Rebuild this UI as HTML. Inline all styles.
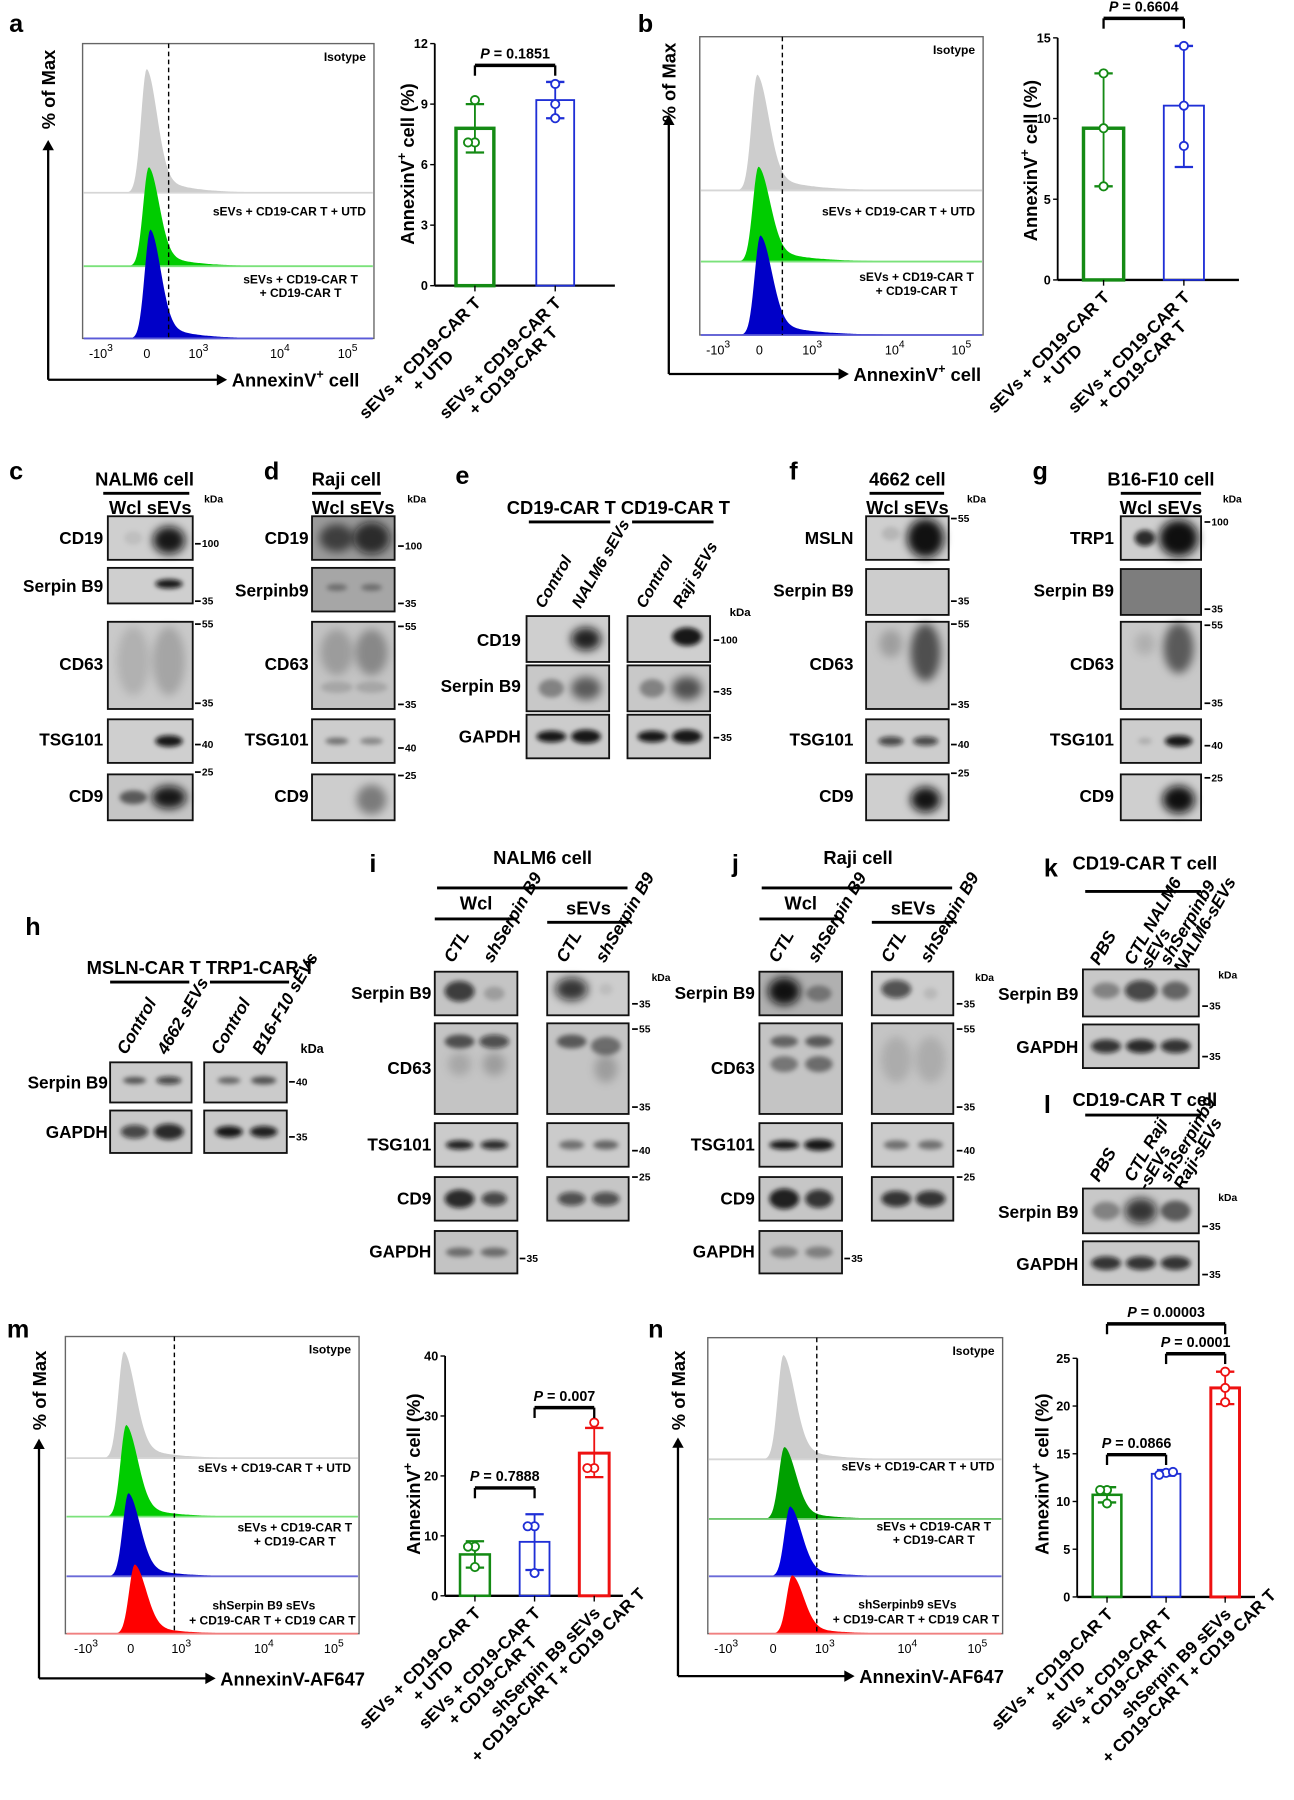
<!DOCTYPE html>
<html><head><meta charset="utf-8"><style>
html,body{margin:0;padding:0;background:#fff;}
svg{display:block;font-family:"Liberation Sans",Arial,sans-serif;}
</style></head><body>
<svg id="fig" xmlns="http://www.w3.org/2000/svg" width="1294" height="1800" viewBox="0 0 1128 1569" preserveAspectRatio="none">
<defs><filter id="blur" x="-50%" y="-100%" width="200%" height="300%"><feGaussianBlur stdDeviation="2"/></filter>
<filter id="blur2" x="-50%" y="-50%" width="200%" height="200%"><feGaussianBlur stdDeviation="4"/></filter></defs>
<rect x="0" y="0" width="1128" height="1569" fill="#fff"/>
</svg>
<script>
// ---------- chart data (bar charts) ----------
const aCats=[['sEVs + CD19-CAR T','+ UTD'],['sEVs + CD19-CAR T','+ CD19-CAR T']];
const aMeans=[7.8,9.2];
const aErrLo=[6.6,8.3];
const aErrHi=[9.0,10.1];
const aPts=[[9.2,7.1,7.1],[10.0,9.0,8.3]];
const aTicks=[0,3,6,9,12];
const aPvals=['0.1851'];

const bCats=[['sEVs + CD19-CAR T','+ UTD'],['sEVs + CD19-CAR T','+ CD19-CAR T']];
const bMeans=[9.4,10.8];
const bErrLo=[5.8,7.0];
const bErrHi=[12.8,14.5];
const bPts=[[12.8,9.4,5.8],[14.5,10.8,8.3]];
const bTicks=[0,5,10,15];
const bPvals=['0.6604'];

const mCats=[['sEVs + CD19-CAR T','+ UTD'],['sEVs + CD19-CAR T','+ CD19-CAR T'],['shSerpin B9  sEVs','+ CD19-CAR T + CD19 CAR T']];
const mMeans=[6.9,9.0,23.8];
const mErrLo=[4.7,4.3,19.8];
const mErrHi=[9.1,13.6,28.0];
const mPts=[[8.2,8.2,4.8],[11.6,11.6,3.8],[28.9,21.3,21.3]];
const mTicks=[0,10,20,30,40];
const mPvals=['0.7888','0.007'];

const nCats=[['sEVs + CD19-CAR T','+ UTD'],['sEVs + CD19-CAR T','+ CD19-CAR T'],['shSerpin B9  sEVs','+ CD19-CAR T + CD19 CAR T']];
const nMeans=[10.7,12.9,21.9];
const nErrLo=[9.9,12.7,20.2];
const nErrHi=[11.5,13.3,23.6];
const nPts=[[11.2,11.2,9.8],[13.0,12.8,13.1],[23.6,21.9,20.4]];
const nTicks=[0,5,10,15,20,25];
const nPvals=['0.0866','0.0001','0.00003'];

// ---------- flow histogram data (peak location in decades, peak % of max) ----------
const aPeakLoc=[0.0,0.04,0.07];
const aPeakPct=[100,80,88];
const bPeakLoc=[-0.05,-0.02,0.02];
const bPeakPct=[100,82,86];
const mPeakLoc=[-0.15,-0.1,-0.05,0.08];
const mPeakPct=[100,86,78,65];
const nPeakLoc=[0.2,0.22,0.33,0.37];
const nPeakPct=[100,69,67,56];

const NS='http://www.w3.org/2000/svg';
const svg=document.getElementById('fig');
function mk(tag,attrs,parent){const e=document.createElementNS(NS,tag);for(const k in attrs)e.setAttribute(k,attrs[k]);(parent||svg).appendChild(e);return e;}
function grp(name,parent){const g=mk('g',{},parent);


return g;}
function tx(x,y,s,o){o=o||{};const t=mk('text',{x:x,y:y,'font-size':o.fs||14,'text-anchor':o.a||'start','font-weight':o.w||'bold','font-style':o.it?'italic':'normal',fill:o.c||'#000'},o.p);
if(o.html)t.innerHTML=s;else t.textContent=s;


if(o.rot!=null)t.setAttribute('transform','rotate('+o.rot+' '+x+' '+y+')');return t;}
function ln(x1,y1,x2,y2,c,w,p,extra){const l=mk('line',Object.assign({x1:x1,y1:y1,x2:x2,y2:y2,stroke:c||'#000','stroke-width':w||1},extra||{}),p);return l;}

// ---------- flow histogram panel ----------
function flow(cfg){
 const g=grp(cfg.name);
 const tickPx=cfg.tickPx, tickLoc=[-1,0,1,2,3];
 function xs(v){for(let i=0;i<tickLoc.length-1;i++){if(v<=tickLoc[i+1]||i==tickLoc.length-2){return tickPx[i]+(v-tickLoc[i])/(tickLoc[i+1]-tickLoc[i])*(tickPx[i+1]-tickPx[i]);}}}
 const b=cfg.box;
 const r=mk('rect',{x:b[0],y:b[1],width:b[2]-b[0],height:b[3]-b[1],fill:'#fff',stroke:'#666','stroke-width':1.2},g);
 
 for(let i=0;i<cfg.peakLoc.length;i++){
  const base=cfg.bases[i], px=xs(cfg.peakLoc[i]), h=cfg.peakPct[i]/100*cfg.trackH;
  let d='M'+(b[0]+1)+' '+base;
  for(let x=b[0]+1;x<=b[2]-1;x+=1){const dd=x-px;let f;
   if(dd<0)f=Math.exp(-dd*dd/(2*cfg.sl*cfg.sl));else f=0.82*Math.exp(-dd*dd/(2*cfg.sr*cfg.sr))+0.18*Math.exp(-dd/cfg.tail);
   d+=' L'+x+' '+(base-h*f).toFixed(1);}
  d+=' L'+(b[2]-1)+' '+base+' Z';
  const p=mk('path',{d:d,fill:cfg.fills[i],stroke:'none'},g);
  
  
  ln(b[0]+1,base,b[2]-1,base,cfg.lines[i],1.6,g);
 }
 ln(cfg.dash,b[1],cfg.dash,b[3],'#000',1.2,g,{'stroke-dasharray':'4,3'});
 tx(b[2]-7,b[1]+15,'Isotype',{fs:10.5,a:'end',p:g,n:'isotype-label'});
 tx(b[2]-7,cfg.t1y,'sEVs + CD19-CAR T + UTD',{fs:10.5,a:'end',p:g,n:'utd-label'});
 tx(cfg.t2x,cfg.t2y,'sEVs + CD19-CAR T',{fs:10.5,a:'middle',p:g,n:'car-label-1'});
 tx(cfg.t2x,cfg.t2y+12,'+ CD19-CAR T',{fs:10.5,a:'middle',p:g,n:'car-label-2'});
 if(cfg.t3y){tx(cfg.t3x,cfg.t3y,cfg.t3a,{fs:10.5,a:'middle',p:g,n:'sh-label-1'});
  tx(b[2]-3,cfg.t3y+13,'+ CD19-CAR T + CD19 CAR T',{fs:10.5,a:'end',p:g,n:'sh-label-2'});}
 const tl=['-10<tspan dy="-6" font-size="9">3</tspan>','0','10<tspan dy="-6" font-size="9">3</tspan>','10<tspan dy="-6" font-size="9">4</tspan>','10<tspan dy="-6" font-size="9">5</tspan>'];
 for(let i=0;i<5;i++){tx(tickPx[i],b[3]+17,tl[i],{fs:11,w:'normal',a:'middle',html:1,p:g,n:'x-tick-label'});}
 const ax=cfg.arrow;
 ln(ax[0],ax[1],ax[0],ax[2]+8,'#000',2,g);
 mk('path',{d:'M'+(ax[0]-5)+' '+(ax[2]+9)+' L'+ax[0]+' '+ax[2]+' L'+(ax[0]+5)+' '+(ax[2]+9)+' Z'},g);
 ln(ax[0],ax[1],ax[3]-8,ax[1],'#000',2,g);
 mk('path',{d:'M'+(ax[3]-9)+' '+(ax[1]-5)+' L'+ax[3]+' '+ax[1]+' L'+(ax[3]-9)+' '+(ax[1]+5)+' Z'},g);
 tx(ax[3]+4,ax[1]+6,cfg.xtitle,{fs:16,html:1,p:g,n:'x-axis-title'});
 tx(ax[0]+6,cfg.ytitleY,'% of Max',{fs:16,a:'middle',rot:-90,p:g,n:'y-axis-title'});
}

// ---------- bar chart ----------
function bars(cfg,cats,means,lo,hi,pts,ticks,pv){
 const g=grp(cfg.name);
 const maxV=ticks[ticks.length-1];
 const y=v=>cfg.y0-v/maxV*(cfg.y0-cfg.yTop);
 const x=i=>cfg.ax+cfg.first+i*cfg.step;
 ln(cfg.ax,cfg.y0,cfg.ax,cfg.yTop,'#000',1.6,g);
 ln(cfg.ax,cfg.y0,cfg.xEnd,cfg.y0,'#000',2,g);
 ticks.forEach(t=>{ln(cfg.ax-4,y(t),cfg.ax,y(t),'#000',1.2,g);
  tx(cfg.ax-6,y(t)+4,String(t),{fs:11,a:'end',p:g,n:'y-tick-label'});});
 means.forEach((m,i)=>{
  const c=cfg.colors[i];
  const r=mk('rect',{x:x(i)-cfg.barW/2,y:y(m),width:cfg.barW,height:cfg.y0-y(m),fill:'none',stroke:c,'stroke-width':cfg.sw[i]},g);
  
  
  ln(x(i),y(lo[i]),x(i),y(hi[i]),c,1.6,g);
  ln(x(i)-8,y(lo[i]),x(i)+8,y(lo[i]),c,2,g);
  ln(x(i)-8,y(hi[i]),x(i)+8,y(hi[i]),c,2,g);
  const seen=[];
  pts[i].forEach(v=>{let k=seen.filter(s=>Math.abs(s-v)<0.35*maxV/12).length;seen.push(v);
   const dx=[0,-6,6][k%3];
   const cc=mk('circle',{cx:x(i)+dx,cy:y(v),r:3.6,fill:'#fff',stroke:c,'stroke-width':1.6},g);
   
   });
  ln(x(i),cfg.y0,x(i),cfg.y0+5,'#000',1.2,g);
  const lg=mk('g',{},g);
  const t=tx(0,0,'',{fs:15,a:'middle',p:lg,n:'x-category-label'});
  const s1=mk('tspan',{x:0,dy:0},t);s1.textContent=cats[i][0];
  const s2=mk('tspan',{x:0,dy:16},t);s2.textContent=cats[i][1];
  let w=150;try{w=s1.getComputedTextLength();}catch(e){}
  lg.setAttribute('transform','translate('+(x(i)+6)+','+(cfg.y0+16)+') rotate(-45) translate('+(-w/2)+',0)');
 });
 cfg.brackets.forEach((bk,j)=>{const x1=x(bk[0]),x2=x(bk[1]),yy=bk[2];
  ln(x1,yy+9,x1,yy,'#000',2,g);ln(x1,yy,x2,yy,'#000',3,g);ln(x2,yy,x2,yy+9,'#000',2,g);
  tx((x1+x2)/2,yy-6,'<tspan font-style="italic">P</tspan> = '+pv[j],{fs:12.5,a:'middle',html:1,p:g,n:'p-value-label'});});
 tx(cfg.ytx,cfg.yty,'AnnexinV<tspan dy="-7" font-size="11">+</tspan><tspan dy="7"> cell (%)</tspan>',{fs:16,a:'middle',rot:-90,html:1,p:g,n:'y-axis-title'});
}

// ---------- western blot helpers ----------
const L2=[0.3,0.72], L3=[0.2,0.5,0.8];
function blot(name,x,y,w,h,lanes,bands,bg,p){
 const g=grp(name+'-blot',p);
 const r=mk('rect',{x:x,y:y,width:w,height:h,fill:bg||'#cdcdcd',stroke:'#111','stroke-width':1.6},g);
 
 bands.forEach(b=>{const e=mk('ellipse',{cx:x+lanes[b[0]]*w,cy:y+b[1]*h,rx:b[2],ry:b[3],fill:'#0a0a0a','fill-opacity':b[4],filter:b[3]>9?'url(#blur2)':'url(#blur)'},g);
  
  });
}
function mark(x,y,s,p){ln(x,y,x+5,y,'#000',1.5,p);tx(x+6,y+3,s,{fs:9,p:p,n:'kda-marker'});}
function lane(x,y,s,p,fs){tx(x,y,s,{fs:fs||15,it:1,rot:-60,p:p,n:'lane-label'});}

// ================== PANEL a / b ==================
tx(8,28,'a',{fs:22,n:'panel-letter-a'});
tx(556,28,'b',{fs:22,n:'panel-letter-b'});
flow({name:'flow-a',box:[72,38,326,295],bases:[168,232,295],trackH:108,peakLoc:aPeakLoc,peakPct:aPeakPct,
 fills:['#cdcdcd','#00cc00','#0000c8'],lines:['#d6d6d6','#7be27b','#5a5ad8'],sampleNames:['isotype','utd','car'],
 sl:5,sr:9,tail:25,tickPx:[88,128,173,244,303],dash:147,t1y:188,t2x:262,t2y:247,
 arrow:[42,331,122,198],xtitle:'AnnexinV<tspan dy="-7" font-size="11">+</tspan><tspan dy="7"> cell</tspan>',ytitleY:78});
bars({name:'bar-chart-a',ax:379,y0:249,yTop:38,first:35,step:70,barW:33,xEnd:536,colors:['#148a14','#1f2fd6'],sw:[3,1.6],
 brackets:[[0,1,57]],ytx:361,yty:143},aCats,aMeans,aErrLo,aErrHi,aPts,aTicks,aPvals);

flow({name:'flow-b',box:[610,32,857,292],bases:[166,228,292],trackH:101,peakLoc:bPeakLoc,peakPct:bPeakPct,
 fills:['#cdcdcd','#00cc00','#0000c8'],lines:['#d6d6d6','#7be27b','#5a5ad8'],sampleNames:['isotype','utd','car'],
 sl:5,sr:10,tail:30,tickPx:[626,662,708,780,838],dash:682,t1y:188,t2x:799,t2y:245,
 arrow:[583,326,100,740],xtitle:'AnnexinV<tspan dy="-7" font-size="11">+</tspan><tspan dy="7"> cell</tspan>',ytitleY:72});
bars({name:'bar-chart-b',ax:922,y0:244,yTop:33,first:40,step:70,barW:35,xEnd:1080,colors:['#148a14','#1f2fd6'],sw:[3,1.6],
 brackets:[[0,1,16]],ytx:904,yty:140},bCats,bMeans,bErrLo,bErrHi,bPts,bTicks,bPvals);

// ================== PANELS c-g ==================
(function(){
 let g=grp('panel-c');
 tx(8,418,'c',{fs:22,p:g,n:'panel-letter-c'});
 tx(126,423,'NALM6 cell',{fs:16,a:'middle',p:g,n:'panel-c-title'});ln(90,430,165,430,'#000',2.5,g);
 tx(131,448,'Wcl sEVs',{fs:16,a:'middle',p:g,n:'lane-header'});tx(178,438,'kDa',{fs:9,p:g,n:'kda-label'});
 blot('cd19',94,450,74,38,L2,[[0,.5,8,6,.08],[1,.55,14,12,.95]],'#cfcfcf',g);
 blot('serpinb9',94,495,74,31,L2,[[1,.45,12,4,.95]],'#cfcfcf',g);
 blot('cd63',94,542,74,76,L2,[[0,.45,14,30,.12],[1,.45,14,30,.18]],'#c9c9c9',g);
 blot('tsg101',94,627,74,38,L2,[[1,.5,12,5,.95]],'#cfcfcf',g);
 blot('cd9',94,675,74,40,L2,[[0,.5,12,6,.55],[1,.5,15,10,.95]],'#c6c6c6',g);
 [['CD19',474],['Serpin B9',516],['CD63',584],['TSG101',650],['CD9',699]].forEach(r=>tx(90,r[1],r[0],{fs:15,a:'end',p:g,n:'protein-label'}));
 mark(170,474,'100',g);mark(170,524,'35',g);mark(170,544,'55',g);mark(170,613,'35',g);mark(170,649,'40',g);mark(170,673,'25',g);
 g=grp('panel-d');
 tx(230,418,'d',{fs:22,p:g,n:'panel-letter-d'});
 tx(302,423,'Raji cell',{fs:16,a:'middle',p:g,n:'panel-d-title'});ln(272,430,332,430,'#000',2.5,g);
 tx(308,448,'Wcl sEVs',{fs:16,a:'middle',p:g,n:'lane-header'});tx(355,438,'kDa',{fs:9,p:g,n:'kda-label'});
 blot('cd19',272,450,72,38,L2,[[0,.5,15,12,.6],[1,.5,16,14,.8]],'#9a9a9a',g);
 blot('serpinb9',272,495,72,38,L2,[[0,.45,9,3,.35],[1,.45,9,3,.35]],'#a6a6a6',g);
 blot('cd63',272,542,72,76,L2,[[0,.35,14,20,.2],[1,.35,14,20,.3],[0,.75,14,5,.15],[1,.75,14,5,.15]],'#c3c3c3',g);
 blot('tsg101',272,627,72,38,L2,[[0,.5,10,3,.45],[1,.5,10,3,.35]],'#cdcdcd',g);
 blot('cd9',272,675,72,40,L2,[[1,.55,13,13,.4]],'#cdcdcd',g);
 [['CD19',474],['Serpinb9',520],['CD63',584],['TSG101',650],['CD9',699]].forEach(r=>tx(269,r[1],r[0],{fs:15,a:'end',p:g,n:'protein-label'}));
 mark(347,476,'100',g);mark(347,526,'35',g);mark(347,546,'55',g);mark(347,614,'35',g);mark(347,652,'40',g);mark(347,676,'25',g);
 g=grp('panel-e');
 tx(397,422,'e',{fs:22,p:g,n:'panel-letter-e'});
 tx(539,448,'CD19-CAR T CD19-CAR T',{fs:16,a:'middle',p:g,n:'panel-e-title'});
 ln(461,455,532,455,'#000',2.5,g);ln(551,455,622,455,'#000',2.5,g);
 lane(474,531,'Control',g,14);lane(506,531,'NALM6 sEVs',g,14);lane(562,531,'Control',g,14);lane(594,531,'Raji sEVs',g,14);
 tx(636,537,'kDa',{fs:10,p:g,n:'kda-label'});
 blot('cd19-ctrl-nalm6',459,537,72,40,L2,[[1,.5,13,10,.9]],'#cfcfcf',g);
 blot('cd19-ctrl-raji',547,537,72,40,L2,[[1,.45,13,8,.95]],'#cfcfcf',g);
 blot('serpinb9-nalm6',459,580,72,40,L2,[[0,.5,11,8,.35],[1,.5,13,10,.55]],'#c8c8c8',g);
 blot('serpinb9-raji',547,580,72,40,L2,[[0,.5,11,8,.35],[1,.5,13,10,.6]],'#c8c8c8',g);
 blot('gapdh-nalm6',459,623,72,38,L2,[[0,.5,13,5,.95],[1,.5,13,6,.95]],'#cccccc',g);
 blot('gapdh-raji',547,623,72,38,L2,[[0,.5,13,5,.95],[1,.5,13,6,.95]],'#cccccc',g);
 [['CD19',563],['Serpin B9',603],['GAPDH',647]].forEach(r=>tx(454,r[1],r[0],{fs:15,a:'end',p:g,n:'protein-label'}));
 mark(622,558,'100',g);mark(622,603,'35',g);mark(622,643,'35',g);
 g=grp('panel-f');
 tx(688,418,'f',{fs:22,p:g,n:'panel-letter-f'});
 tx(791,423,'4662 cell',{fs:16,a:'middle',p:g,n:'panel-f-title'});ln(758,430,823,430,'#000',2.5,g);
 tx(791,448,'Wcl sEVs',{fs:16,a:'middle',p:g,n:'lane-header'});tx(843,438,'kDa',{fs:9,p:g,n:'kda-label'});
 blot('mesothelin',755,450,72,38,L2,[[0,.4,8,6,.12],[1,.5,16,17,.98]],'#cfcfcf',g);
 blot('serpinb9',755,496,72,40,L2,[],'#cdcdcd',g);
 blot('cd63',755,542,72,76,L2,[[0,.25,10,12,.2],[1,.35,13,25,.6]],'#c6c6c6',g);
 blot('tsg101',755,627,72,38,L2,[[0,.5,11,4,.7],[1,.5,11,4,.7]],'#cdcdcd',g);
 blot('cd9',755,675,72,40,L2,[[1,.55,13,11,.97]],'#cfcfcf',g);
 [['MSLN',474],['Serpin B9',520],['CD63',584],['TSG101',650],['CD9',699]].forEach(r=>tx(744,r[1],r[0],{fs:15,a:'end',p:g,n:'protein-label'}));
 mark(829,452,'55',g);mark(829,524,'35',g);mark(829,544,'55',g);mark(829,614,'35',g);mark(829,649,'40',g);mark(829,674,'25',g);
 g=grp('panel-g');
 tx(900,418,'g',{fs:22,p:g,n:'panel-letter-g'});
 tx(1012,423,'B16-F10 cell',{fs:16,a:'middle',p:g,n:'panel-g-title'});ln(977,430,1047,430,'#000',2.5,g);
 tx(1012,448,'Wcl sEVs',{fs:16,a:'middle',p:g,n:'lane-header'});tx(1066,438,'kDa',{fs:9,p:g,n:'kda-label'});
 blot('trp1',977,450,70,38,L2,[[0,.5,9,7,.85],[1,.5,17,16,.99]],'#cfcfcf',g);
 blot('serpinb9',977,496,70,40,L2,[],'#7d7d7d',g);
 blot('cd63',977,542,70,76,L2,[[0,.25,9,10,.12],[1,.3,13,22,.55]],'#c8c8c8',g);
 blot('tsg101',977,627,70,38,L2,[[0,.5,6,3,.15],[1,.5,12,5,.95]],'#cdcdcd',g);
 blot('cd9',977,675,70,40,L2,[[1,.55,14,12,.99]],'#cfcfcf',g);
 [['TRP1',474],['Serpin B9',520],['CD63',584],['TSG101',650],['CD9',699]].forEach(r=>tx(971,r[1],r[0],{fs:15,a:'end',p:g,n:'protein-label'}));
 mark(1050,455,'100',g);mark(1050,531,'35',g);mark(1050,545,'55',g);mark(1050,613,'35',g);mark(1050,650,'40',g);mark(1050,678,'25',g);
})();

// ================== PANELS h-l ==================
(function(){
 let g=grp('panel-h');
 tx(22,815,'h',{fs:22,p:g,n:'panel-letter-h'});
 tx(175,849,'MSLN-CAR T TRP1-CAR T',{fs:16,a:'middle',p:g,n:'panel-h-title'});
 ln(96,856,165,856,'#000',2.5,g);ln(183,856,252,856,'#000',2.5,g);
 lane(110,920,'Control',g);lane(145,920,'4662 sEVs',g);lane(192,920,'Control',g);lane(228,920,'B16-F10 sEVs',g);
 tx(262,918,'kDa',{fs:11,p:g,n:'kda-label'});
 blot('serpinb9-mslnt',96,926,71,35,L2,[[0,.45,10,3,.6],[1,.45,11,3.5,.7]],'#cbcbcb',g);
 blot('serpinb9-trp1t',178,926,72,35,L2,[[0,.45,10,3,.5],[1,.45,11,3.5,.6]],'#cbcbcb',g);
 blot('gapdh-mslnt',96,968,71,37,L2,[[0,.5,12,6,.7],[1,.5,13,7,.85]],'#c9c9c9',g);
 blot('gapdh-trp1t',178,968,72,37,L2,[[0,.5,12,5,.95],[1,.5,12,5,.9]],'#c9c9c9',g);
 tx(94,949,'Serpin B9',{fs:15,a:'end',p:g,n:'protein-label'});tx(94,992,'GAPDH',{fs:15,a:'end',p:g,n:'protein-label'});
 mark(252,943,'40',g);mark(252,991,'35',g);

 function ij(L,x0,x2,title,tcx,letter,letx,lbx,kdax){
  const gg=grp('panel-'+letter);
  tx(letx,760,letter,{fs:22,p:gg,n:'panel-letter-'+letter});
  tx(tcx,753,title,{fs:16,a:'middle',p:gg,n:'panel-'+letter+'-title'});ln(x0+2,774,x2+70,774,'#000',2.5,gg);
  tx(x0+36,793,'Wcl',{fs:16,a:'middle',p:gg,n:'wcl-header'});ln(x0,801,x0+72,801,'#000',2.5,gg);
  tx(x2+36,797,'sEVs',{fs:16,a:'middle',p:gg,n:'sevs-header'});ln(x2,804,x2+71,804,'#000',2.5,gg);
  lane(x0+16,840,'CTL',gg);lane(x0+50,840,'shSerpin B9',gg);lane(x2+16,840,'CTL',gg);lane(x2+50,840,'shSerpin B9',gg);
  tx(kdax,855,'kDa',{fs:9,p:gg,n:'kda-label'});
  const B=L.bands;
  blot('serpinb9-wcl',x0,847,72,38,L2,B[0],L.bgS0,gg);blot('serpinb9-sevs',x2,847,71,38,L2,B[1],'#cdcdcd',gg);
  blot('cd63-wcl',x0,892,72,79,L2,B[2],'#c4c4c4',gg);blot('cd63-sevs',x2,892,71,79,L2,B[3],'#c4c4c4',gg);
  blot('tsg101-wcl',x0,979,72,38,L2,B[4],'#cbcbcb',gg);blot('tsg101-sevs',x2,979,71,38,L2,B[5],'#cbcbcb',gg);
  blot('cd9-wcl',x0,1026,72,38,L2,B[6],'#c6c6c6',gg);blot('cd9-sevs',x2,1026,71,38,L2,B[7],'#c6c6c6',gg);
  blot('gapdh-wcl',x0,1073,72,37,L2,B[8],'#c3c3c3',gg);
  [['Serpin B9',871],['CD63',936],['TSG101',1003],['CD9',1050],['GAPDH',1096]].forEach(r=>tx(lbx,r[1],r[0],{fs:15,a:'end',p:gg,n:'protein-label'}));
  mark(x2+74,875,'35',gg);mark(x2+74,897,'55',gg);mark(x2+74,965,'35',gg);mark(x2+74,1003,'40',gg);mark(x2+74,1026,'25',gg);mark(x0+74,1097,'35',gg);
 }
 ij({bgS0:'#c4c4c4',bands:[[[0,.45,13,9,.75],[1,.5,9,6,.2]],[[0,.4,14,10,.8],[1,.4,6,5,.08]],
   [[0,.2,13,6,.6],[1,.2,13,6,.65],[0,.45,10,10,.15],[1,.45,10,10,.2]],[[0,.2,13,6,.55],[1,.25,13,8,.45],[1,.5,10,12,.2]],
   [[0,.5,12,4,.9],[1,.5,12,4,.85]],[[0,.5,11,4,.45],[1,.5,11,4,.5]],[[0,.5,13,8,.85],[1,.5,11,6,.7]],[[0,.5,12,6,.65],[1,.5,12,6,.65]],[[0,.5,12,4,.45],[1,.5,12,4,.45]]]},
  379,477,'NALM6 cell',473,'i',322,376,568);
 ij({bgS0:'#b0b0b0',bands:[[[0,.45,14,12,.98],[1,.5,11,7,.35]],[[0,.4,13,8,.65],[1,.5,6,5,.1]],
   [[0,.2,12,5,.5],[1,.2,12,5,.55],[0,.45,12,7,.4],[1,.45,12,7,.45]],[[0,.4,13,20,.12],[1,.4,13,20,.12]],
   [[0,.5,13,4,.95],[1,.5,13,5,.95]],[[0,.5,11,4,.45],[1,.5,11,4,.45]],[[0,.5,13,9,.9],[1,.5,12,8,.8]],[[0,.5,13,7,.8],[1,.5,13,7,.8]],[[0,.5,12,5,.35],[1,.5,12,5,.35]]]},
  662,760,'Raji cell',748,'j',638,658,850);

 function kl(letter,ty,lineY,lbBottom,y1,h1,y2,h2,ls,b1,b2,kdaY,m1,m2){
  const gg=grp('panel-'+letter);
  tx(910,ty+6,letter,{fs:22,p:gg,n:'panel-letter-'+letter});
  tx(998,ty,'CD19-CAR T cell',{fs:16,a:'middle',p:gg,n:'panel-'+letter+'-title'});ln(946,lineY,1047,lineY,'#000',2.5,gg);
  ls.forEach((s,i)=>{const x=[958,988,1019][i];const t=tx(0,0,'',{fs:15,it:1,p:gg,n:'lane-label'});
   t.setAttribute('transform','translate('+x+','+lbBottom+') rotate(-60)');
   const a=mk('tspan',{x:0,dy:0},t);a.textContent=s[0];if(s[1]){const b=mk('tspan',{x:0,dy:14},t);b.textContent=s[1];}});
  tx(1062,kdaY,'kDa',{fs:9,p:gg,n:'kda-label'});
  blot('serpinb9',944,y1,101,h1,L3,b1,'#c8c8c8',gg);blot('gapdh',944,y2,101,h2,L3,b2,'#c9c9c9',gg);
  tx(940,y1+h1/2+6,'Serpin B9',{fs:15,a:'end',p:gg,n:'protein-label'});tx(940,y2+h2/2+6,'GAPDH',{fs:15,a:'end',p:gg,n:'protein-label'});
  mark(1048,m1,'35',gg);mark(1048,m2,'35',gg);
 }
 kl('k',758,777,842,845,41,893,38,[['PBS'],['CTL NALM6','-sEVs'],['shSerpinb9','NALM6-sEVs']],
   [[0,.45,12,7,.35],[1,.45,14,9,.7],[2,.45,12,8,.5]],[[0,.5,13,6,.8],[1,.5,13,6,.85],[2,.5,13,6,.8]],853,877,921);
 kl('l',964,972,1031,1036,39,1082,38,[['PBS'],['CTL Raji','-sEVs'],['shSerpinb9','Raji-sEVs']],
   [[0,.5,12,8,.35],[1,.5,14,11,.8],[2,.5,13,9,.55]],[[0,.5,13,6,.8],[1,.5,13,6,.8],[2,.5,13,6,.8]],1047,1069,1111);
})();

// ================== PANEL m / n ==================
tx(6,1166,'m',{fs:22,n:'panel-letter-m'});
tx(565,1166,'n',{fs:22,n:'panel-letter-n'});
flow({name:'flow-m',box:[57,1165,313,1424],bases:[1271,1322,1374,1424],trackH:93,peakLoc:mPeakLoc,peakPct:mPeakPct,
 fills:['#cdcdcd','#00cc00','#0000c8','#ff0000'],lines:['#d6d6d6','#7be27b','#6a6ad8','#f08080'],sampleNames:['isotype','utd','car','sh-serpinb9'],
 sl:5,sr:10,tail:25,tickPx:[75,114,158,230,291],dash:152,t1y:1283,t2x:257,t2y:1335,t3y:1403,t3x:230,t3a:'shSerpin B9  sEVs',
 arrow:[34,1463,1254,188],xtitle:'AnnexinV-AF647',ytitleY:1212});
bars({name:'bar-chart-m',ax:388,y0:1391,yTop:1182,first:26,step:52,barW:26,xEnd:543,colors:['#148a14','#1f2fd6','#ee1111'],sw:[2.2,1.6,2.6],
 brackets:[[0,1,1297],[1,2,1227]],ytx:366,yty:1285},mCats,mMeans,mErrLo,mErrHi,mPts,mTicks,mPvals);

flow({name:'flow-n',box:[617,1166,874,1424],bases:[1272,1324,1374,1424],trackH:91,peakLoc:nPeakLoc,peakPct:nPeakPct,
 fills:['#cdcdcd','#00a000','#0000e0','#ff0000'],lines:['#d6d6d6','#6fc86f','#6a6ad8','#f08080'],sampleNames:['isotype','utd','car','sh-serpinb9'],
 sl:5,sr:10,tail:25,tickPx:[633,674,719,791,852],dash:712,t1y:1282,t2x:814,t2y:1334,t3y:1402,t3x:791,t3a:'shSerpinb9  sEVs',
 arrow:[591,1461,1253,745],xtitle:'AnnexinV-AF647',ytitleY:1212});
bars({name:'bar-chart-n',ax:939,y0:1392,yTop:1184,first:26,step:51.5,barW:25,xEnd:1094,colors:['#148a14','#1f2fd6','#ee1111'],sw:[2.2,1.6,2.6],
 brackets:[[0,1,1268],[1,2,1180],[0,2,1154]],ytx:914,yty:1285},nCats,nMeans,nErrLo,nErrHi,nPts,nTicks,nPvals);
</script>
</body></html>
